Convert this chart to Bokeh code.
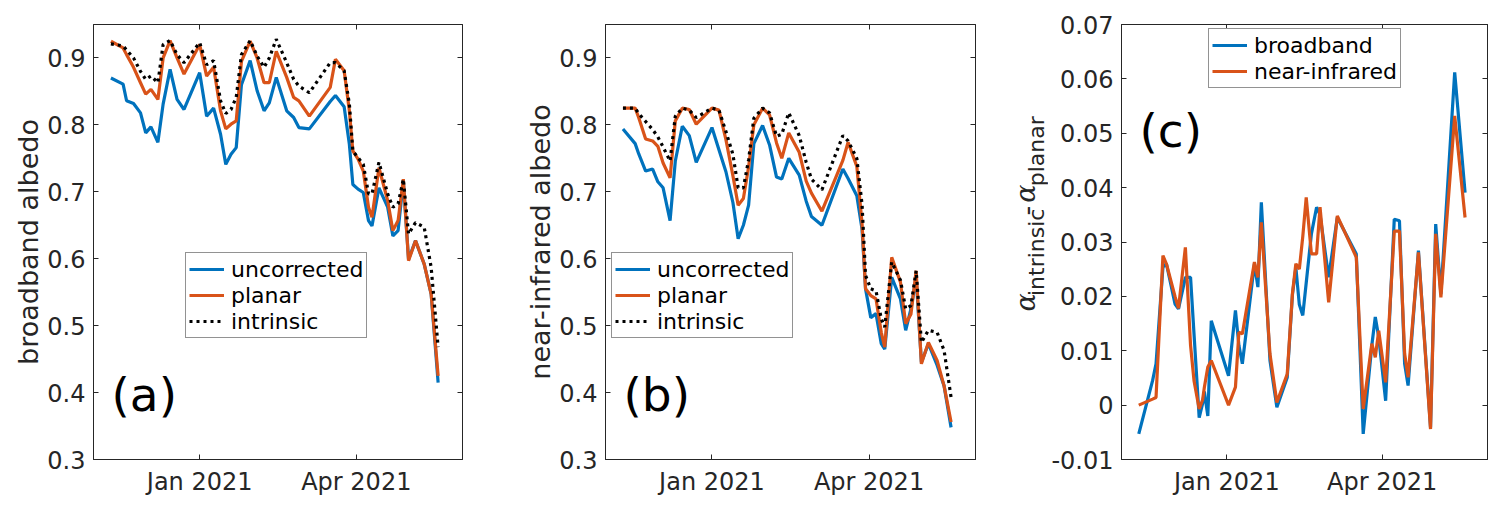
import pandas as pd
from math import pi
from bokeh.plotting import figure
from bokeh.models import (ColumnDataSource, Range1d, FixedTicker, DatetimeAxis, LinearAxis,
                          DatetimeTickFormatter, CustomJSTickFormatter, Legend, LegendItem, Label)
from bokeh.layouts import row
from bokeh.embed import file_html
from bokeh.resources import INLINE

# ---------------- data ----------------
dates_ab = ["2020-11-11", "2020-11-18", "2020-11-20", "2020-11-24", "2020-11-28", "2020-12-01",
            "2020-12-04", "2020-12-08", "2020-12-11", "2020-12-15", "2020-12-19", "2020-12-23",
            "2021-01-01", "2021-01-05", "2021-01-09", "2021-01-13", "2021-01-16", "2021-01-19",
            "2021-01-22", "2021-01-25", "2021-01-30", "2021-02-03", "2021-02-07", "2021-02-10",
            "2021-02-14", "2021-02-20", "2021-02-24", "2021-02-27", "2021-03-05", "2021-03-17",
            "2021-03-20", "2021-03-25", "2021-03-28", "2021-03-30", "2021-04-02", "2021-04-05",
            "2021-04-08", "2021-04-10", "2021-04-14", "2021-04-19", "2021-04-22", "2021-04-25",
            "2021-04-28", "2021-05-01", "2021-05-05", "2021-05-10", "2021-05-14", "2021-05-18"]

bb_uncorrected = [0.870, 0.861, 0.836, 0.832, 0.818, 0.788, 0.797, 0.774, 0.831, 0.883, 0.838, 0.823,
                  0.878, 0.813, 0.825, 0.786, 0.741, 0.756, 0.766, 0.860, 0.896, 0.851, 0.821, 0.833,
                  0.871, 0.821, 0.811, 0.796, 0.794, 0.835, 0.844, 0.827, 0.771, 0.711, 0.704, 0.699,
                  0.657, 0.649, 0.706, 0.677, 0.634, 0.642, 0.716, 0.599, 0.627, 0.592, 0.547, 0.415]
bb_planar = [0.925, 0.915, 0.905, 0.886, 0.863, 0.846, 0.853, 0.838, 0.900, 0.926, 0.900, 0.876,
             0.920, 0.873, 0.886, 0.821, 0.794, 0.801, 0.806, 0.895, 0.925, 0.900, 0.863, 0.863,
             0.910, 0.871, 0.841, 0.836, 0.813, 0.856, 0.898, 0.881, 0.821, 0.761, 0.749, 0.731,
             0.677, 0.662, 0.736, 0.687, 0.642, 0.657, 0.719, 0.597, 0.627, 0.592, 0.547, 0.425]
bb_intrinsic = [0.921, 0.918, 0.912, 0.900, 0.880, 0.868, 0.873, 0.863, 0.920, 0.926, 0.905, 0.893,
                0.923, 0.890, 0.896, 0.836, 0.817, 0.823, 0.841, 0.905, 0.926, 0.903, 0.886, 0.900,
                0.928, 0.893, 0.868, 0.858, 0.848, 0.893, 0.893, 0.881, 0.831, 0.761, 0.751, 0.741,
                0.697, 0.697, 0.744, 0.697, 0.677, 0.682, 0.719, 0.637, 0.654, 0.647, 0.587, 0.468]

nir_uncorrected = [0.794, 0.772, 0.757, 0.731, 0.734, 0.715, 0.706, 0.657, 0.746, 0.798, 0.784, 0.744,
                   0.796, 0.763, 0.730, 0.684, 0.630, 0.650, 0.680, 0.772, 0.799, 0.770, 0.722, 0.719,
                   0.750, 0.725, 0.686, 0.663, 0.650, 0.734, 0.720, 0.694, 0.644, 0.555, 0.512, 0.518,
                   0.473, 0.465, 0.572, 0.540, 0.493, 0.525, 0.572, 0.445, 0.473, 0.441, 0.410, 0.348]
nir_planar = [0.825, 0.825, 0.811, 0.779, 0.776, 0.768, 0.743, 0.721, 0.806, 0.825, 0.823, 0.801,
              0.825, 0.822, 0.778, 0.724, 0.680, 0.690, 0.737, 0.800, 0.825, 0.815, 0.773, 0.750,
              0.788, 0.759, 0.716, 0.698, 0.671, 0.747, 0.774, 0.738, 0.652, 0.555, 0.545, 0.540,
              0.490, 0.468, 0.602, 0.565, 0.503, 0.517, 0.582, 0.443, 0.475, 0.448, 0.410, 0.356]
nir_intrinsic = [0.825, 0.825, 0.817, 0.805, 0.793, 0.782, 0.767, 0.746, 0.813, 0.825, 0.822, 0.811,
                 0.825, 0.822, 0.790, 0.756, 0.706, 0.706, 0.748, 0.810, 0.825, 0.818, 0.783, 0.786,
                 0.818, 0.784, 0.744, 0.719, 0.703, 0.784, 0.776, 0.750, 0.681, 0.575, 0.555, 0.552,
                 0.510, 0.498, 0.595, 0.568, 0.525, 0.530, 0.582, 0.475, 0.493, 0.490, 0.463, 0.393]

dates_c = ["2020-11-11", "2020-11-19", "2020-11-21", "2020-11-25", "2020-11-27", "2020-12-02",
           "2020-12-04", "2020-12-08", "2020-12-11", "2020-12-13", "2020-12-16", "2020-12-18",
           "2020-12-19", "2020-12-21", "2020-12-23", "2021-01-02", "2021-01-06", "2021-01-08",
           "2021-01-10", "2021-01-17", "2021-01-19", "2021-01-21", "2021-01-26", "2021-01-30",
           "2021-02-05", "2021-02-08", "2021-02-10", "2021-02-12", "2021-02-14", "2021-02-16",
           "2021-02-19", "2021-02-22", "2021-02-24", "2021-03-01", "2021-03-06", "2021-03-17",
           "2021-03-21", "2021-03-26", "2021-03-28", "2021-03-30", "2021-04-03", "2021-04-08",
           "2021-04-11", "2021-04-14", "2021-04-16", "2021-04-22", "2021-04-29", "2021-05-02",
           "2021-05-05", "2021-05-13", "2021-05-19"]
diff_broadband = [-0.0053, 0.0045, 0.0076, 0.0254, 0.0260, 0.0186, 0.0177, 0.0235, 0.0235, 0.0131,
                  -0.0023, 0.0003, 0.0025, -0.0020, 0.0155, 0.0054, 0.0174, 0.0110, 0.0076, 0.0260,
                  0.0217, 0.0373, 0.0082, -0.0004, 0.0051, 0.0203, 0.0253, 0.0185, 0.0165, 0.0225,
                  0.0315, 0.0364, 0.0350, 0.0235, 0.0345, 0.0278, -0.0053, 0.0110, 0.0162, 0.0125,
                  0.0008, 0.0342, 0.0339, 0.0076, 0.0036, 0.0284, -0.0041, 0.0333, 0.0204, 0.0612,
                  0.0391]
diff_nir = [0.0000, 0.0011, 0.0014, 0.0275, 0.0260, 0.0200, 0.0178, 0.0290, 0.0110, 0.0045,
            -0.0007, 0.0010, 0.0033, 0.0070, 0.0082, 0.0000, 0.0033, 0.0134, 0.0131, 0.0263,
            0.0235, 0.0336, 0.0094, 0.0005, 0.0057, 0.0205, 0.0260, 0.0250, 0.0310, 0.0382,
            0.0278, 0.0278, 0.0364, 0.0189, 0.0348, 0.0272, -0.0007, 0.0113, 0.0088, 0.0137,
            0.0042, 0.0320, 0.0320, 0.0095, 0.0051, 0.0281, -0.0044, 0.0315, 0.0198, 0.0532,
            0.0345]

x_limits = ["2020-11-01", "2021-06-01"]
xtick_dates = ["2021-01-01", "2021-04-01"]
yticks_ab = [0.3, 0.4, 0.5, 0.6, 0.7, 0.8, 0.9]
ylim_ab = (0.3, 0.95)
yticks_c = [-0.01, 0.0, 0.01, 0.02, 0.03, 0.04, 0.05, 0.06, 0.07]
ylim_c = (-0.01, 0.07)

# ---------------- styling ----------------
FONT = "DejaVu Sans"
AX = "#262626"
BLUE = "#0072BD"
ORANGE = "#D95319"
LW = 3.2
FIG_H = 503
xticks_ms = [pd.Timestamp(d).value // 10**6 for d in xtick_dates]

FMT = "%b %Y"
xfmt = DatetimeTickFormatter(days=FMT, months=FMT, years=FMT, hours=FMT, minutes=FMT,
                             seconds=FMT, milliseconds=FMT, microseconds=FMT, minsec=FMT,
                             hourmin=FMT)


def style_axis(ax):
    ax.major_label_text_font = FONT
    ax.major_label_text_color = AX
    ax.axis_line_color = AX
    ax.axis_line_width = 1
    ax.major_tick_line_color = AX
    ax.major_tick_in = 5
    ax.major_tick_out = 0
    ax.minor_tick_line_color = None


def make_fig(width, left, right, ylim, yticks, ydigits, ylabel, ystandoff):
    p = figure(width=width, height=FIG_H, x_axis_type="datetime", output_backend="svg",
               toolbar_location=None,
               x_range=Range1d(pd.Timestamp(x_limits[0]), pd.Timestamp(x_limits[1])),
               y_range=Range1d(*ylim),
               min_border_left=left, min_border_right=right, min_border_top=24, min_border_bottom=44)
    p.grid.visible = False
    p.outline_line_color = AX
    p.outline_line_width = 1
    p.background_fill_color = "white"
    p.border_fill_color = "white"

    xb = p.below[0]
    yl = p.left[0]
    xb.ticker = FixedTicker(ticks=xticks_ms)
    xb.formatter = xfmt
    yl.ticker = FixedTicker(ticks=yticks)
    yl.formatter = CustomJSTickFormatter(
        args=dict(n=ydigits), code="return Math.abs(tick) < 1e-9 ? '0' : tick.toFixed(n);")
    style_axis(xb)
    style_axis(yl)
    xb.major_label_text_font_size = "24px"
    xb.major_label_standoff = 8
    yl.major_label_text_font_size = "24px"
    yl.major_label_standoff = ystandoff
    if ylabel:
        yl.axis_label = ylabel
        yl.axis_label_text_font = FONT
        yl.axis_label_text_font_size = "27px"
        yl.axis_label_text_font_style = "normal"
        yl.axis_label_text_color = AX
        yl.axis_label_standoff = 0

    # box ticks on top and right (no labels)
    top = DatetimeAxis(ticker=FixedTicker(ticks=xticks_ms))
    rgt = LinearAxis(ticker=FixedTicker(ticks=yticks))
    for ax in (top, rgt):
        style_axis(ax)
        ax.major_label_text_font_size = "0px"
        ax.major_label_text_color = None
        ax.major_label_standoff = 0
    p.add_layout(top, "above")
    p.add_layout(rgt, "right")
    return p


def add_legend(p, items, loc):
    lg = Legend(items=[LegendItem(label=t, renderers=[r]) for t, r in items], location=loc,
                label_text_font=FONT, label_text_font_size="22px", label_text_color="black",
                glyph_width=35, glyph_height=26, label_height=26, label_standoff=7,
                padding=3, spacing=0, margin=0,
                border_line_color=AX, border_line_width=1,
                background_fill_color="white", background_fill_alpha=1.0)
    p.add_layout(lg)


def panel_label(p, text, x, y):
    p.add_layout(Label(x=x, y=y, x_units="screen", y_units="screen", text=text,
                       text_font=FONT, text_font_size="47px", text_color="black",
                       text_align="left", text_baseline="alphabetic"))


def albedo_panel(width, left, right, ylabel, unc, pla, intr, legend_loc, tag):
    p = make_fig(width, left, right, ylim_ab, yticks_ab, 1, ylabel, 8)
    src = ColumnDataSource(dict(date=pd.to_datetime(dates_ab), unc=unc, pla=pla, intr=intr))
    r1 = p.line("date", "unc", source=src, line_color=BLUE, line_width=LW)
    r2 = p.line("date", "pla", source=src, line_color=ORANGE, line_width=LW)
    r3 = p.line("date", "intr", source=src, line_color="black", line_width=LW, line_dash="3 4")
    add_legend(p, [("uncorrected", r1), ("planar", r2), ("intrinsic", r3)], legend_loc)
    panel_label(p, tag, 18, 65)
    return p


pa = albedo_panel(512, 93, 50, "broadband albedo", bb_uncorrected, bb_planar, bb_intrinsic,
                  (92, 121), "(a)")
pb = albedo_panel(482, 93, 19, "near-infrared albedo", nir_uncorrected, nir_planar, nir_intrinsic,
                  (6, 121), "(b)")

# narrow strip holding the composite y label of panel (c), in pixel coordinates
LAB_W = 54
plab = figure(width=LAB_W, height=FIG_H, output_backend="svg", toolbar_location=None,
              x_range=Range1d(0, LAB_W), y_range=Range1d(0, FIG_H), min_border=0)
plab.axis.visible = False
plab.grid.visible = False
plab.outline_line_color = None
ylabel_parts = [("α", 31, 171, "DejaVu Serif", "italic", "27px"),
                ("intrinsic", 42, 189, FONT, "normal", "22px"),
                ("-", 31, 282, FONT, "normal", "27px"),
                ("α", 31, 297, "DejaVu Serif", "italic", "27px"),
                ("planar", 42, 316, FONT, "normal", "22px")]
for txt, lx, ly, fnt, sty, sz in ylabel_parts:
    plab.add_layout(Label(x=lx, y=ly, text=txt, angle=pi / 2, angle_units="rad",
                          text_font=fnt, text_font_style=sty, text_font_size=sz,
                          text_color=AX, text_align="left", text_baseline="alphabetic"))

pc = make_fig(453, 70, 14, ylim_c, yticks_c, 2, None, 8)
src_c = ColumnDataSource(dict(date=pd.to_datetime(dates_c), bb=diff_broadband, nir=diff_nir))
c1 = pc.line("date", "bb", source=src_c, line_color=BLUE, line_width=LW)
c2 = pc.line("date", "nir", source=src_c, line_color=ORANGE, line_width=LW)
add_legend(pc, [("broadband", c1), ("near-infrared", c2)], (87, 371))
panel_label(pc, "(c)", 18, 329)

layout = row(pa, pb, plab, pc)
open("out.html", "w").write(file_html(layout, INLINE))
